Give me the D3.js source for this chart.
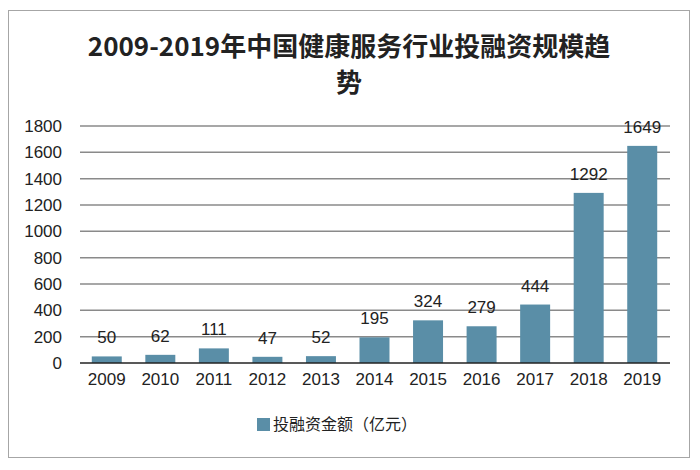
<!DOCTYPE html>
<html><head><meta charset="utf-8">
<script src="https://cdn.jsdelivr.net/npm/d3@7"></script>
<style>body{margin:0;background:#fff}svg{display:block}</style>
</head><body>
<script>
const titleLines = ["2009-2019年中国健康服务行业投融资规模趋", "势"];
const categories = ["2009","2010","2011","2012","2013","2014","2015","2016","2017","2018","2019"];
const values = [50,62,111,47,52,195,324,279,444,1292,1649];
const yTicks = [0,200,400,600,800,1000,1200,1400,1600,1800];
const seriesName = "投融资金额（亿元）";

const W = 700, H = 470;
const svg = d3.select("body").append("svg").attr("width", W).attr("height", H);
svg.append("rect").attr("x", 8.5).attr("y", 10.5).attr("width", 681).attr("height", 447)
  .attr("fill", "#fff").attr("stroke", "#a6a6a6").attr("stroke-width", 1);

const numFont = "'Liberation Sans', Arial, sans-serif";
const cjkFont = "'Noto Sans CJK SC', sans-serif";

const title = svg.append("text").attr("text-anchor", "middle")
  .attr("font-family", cjkFont).attr("font-weight", "bold").attr("font-size", 26).attr("fill", "#222");
titleLines.forEach((t, i) => title.append("tspan").attr("x", 349).attr("y", 56 + i * 36).text(t));

const x = d3.scaleBand().domain(categories).range([80, 669]).paddingInner(0.44).paddingOuter(0.22);
const y = d3.scaleLinear().domain([0, 1800]).range([363, 126]);

const grid = svg.append("g");
grid.selectAll("line").data(yTicks.filter(d => d > 0)).join("line")
  .attr("x1", 80).attr("x2", 670).attr("y1", d => y(d)).attr("y2", d => y(d))
  .attr("stroke", "#8a8a8a").attr("stroke-width", 1.5);

const yAxis = svg.append("g").attr("transform", "translate(80,0)")
  .call(d3.axisLeft(y).tickValues(yTicks).tickFormat(d3.format("d")).tickSize(0).tickPadding(18));
yAxis.select(".domain").remove();
yAxis.selectAll("text").attr("font-family", numFont).attr("font-size", 17).attr("fill", "#222");

svg.append("g").selectAll("rect").data(values).join("rect")
  .attr("x", (d, i) => x(categories[i])).attr("width", x.bandwidth())
  .attr("y", d => y(d)).attr("height", d => y(0) - y(d))
  .attr("fill", "#5a8ea7");

svg.append("line").attr("x1", 80).attr("x2", 670).attr("y1", y(0)).attr("y2", y(0))
  .attr("stroke", "#222").attr("stroke-width", 1.5);

const xAxis = svg.append("g").attr("transform", `translate(0,${y(0)})`)
  .call(d3.axisBottom(x).tickSize(0).tickPadding(10));
xAxis.select(".domain").remove();
xAxis.selectAll("text").attr("font-family", numFont).attr("font-size", 17).attr("fill", "#222");

svg.append("g").selectAll("text").data(values).join("text")
  .attr("x", (d, i) => x(categories[i]) + x.bandwidth() / 2)
  .attr("y", d => y(d) - 13)
  .attr("text-anchor", "middle").attr("font-family", numFont).attr("font-size", 17).attr("fill", "#222")
  .text(d => d);

const lg = svg.append("g");
lg.append("rect").attr("x", 257).attr("y", 418).attr("width", 13).attr("height", 13).attr("fill", "#5a8ea7");
lg.append("text").attr("x", 273).attr("y", 430).attr("font-family", cjkFont).attr("font-size", 16).attr("fill", "#222")
  .text(seriesName);
</script>
</body></html>
